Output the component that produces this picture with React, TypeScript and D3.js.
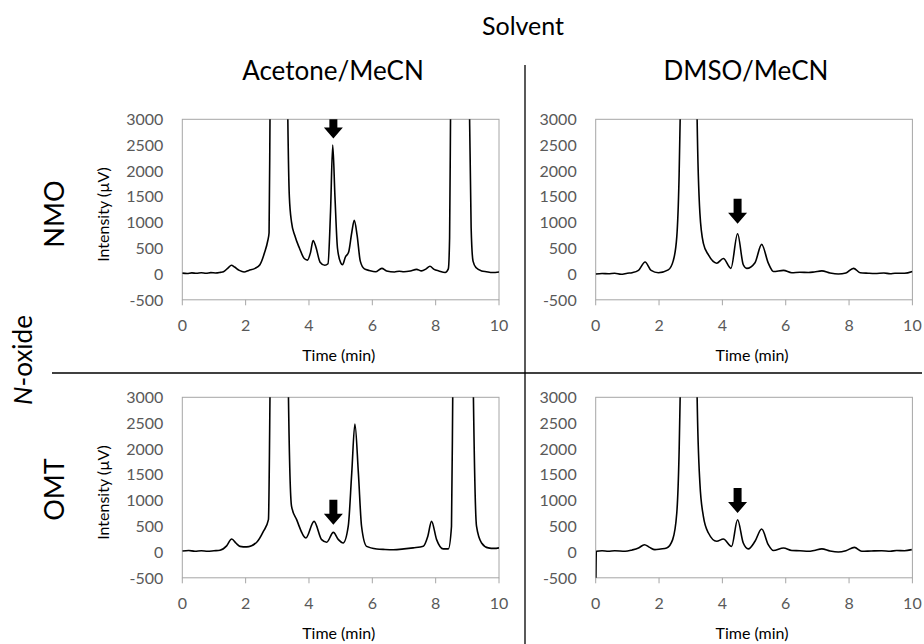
import React from "react";
import { scaleLinear, line, curveMonotoneX } from "d3";

// axis ticks
const timeTicks = [0, 2, 4, 6, 8, 10];
const intensityTicks = [-500, 0, 500, 1000, 1500, 2000, 2500, 3000];

const solventNames = ["Acetone/MeCN", "DMSO/MeCN"];
const oxideNames = ["NMO", "OMT"];

// NMO in Acetone/MeCN
const nmoAcetoneTime = [
  0, 0.15, 0.3, 0.45, 0.6, 0.75, 0.9, 1.05, 1.2, 1.3, 1.45, 1.55, 1.65, 1.8,
  1.95, 2.1, 2.3, 2.45, 2.6, 2.7, 2.74, 2.77, 3.05, 3.33, 3.38, 3.45, 3.55, 3.7,
  3.85, 3.95, 4.05, 4.13, 4.22, 4.35, 4.5, 4.6, 4.68, 4.75, 4.82, 4.9, 5.0,
  5.06, 5.15, 5.25, 5.35, 5.43, 5.52, 5.62, 5.75, 5.9, 6.1, 6.3, 6.45, 6.7,
  6.85, 7.0, 7.2, 7.4, 7.55, 7.7, 7.82, 7.95, 8.1, 8.3, 8.4, 8.44, 8.47, 8.75,
  9.07, 9.12, 9.18, 9.28, 9.45, 9.6, 9.8, 10,
];
const nmoAcetoneSignal = [
  18, 10, 22, 14, 24, 16, 26, 20, 32, 45, 120, 170, 135, 70, 40, 70, 110, 180,
  420, 650, 800, 3100, 40000, 3100, 1500, 1000, 750, 500, 300, 270, 420, 650,
  520, 230, 170, 200, 1200, 2500, 1500, 500, 220, 180, 330, 420, 800, 1040, 750,
  250, 100, 70, 45, 110, 60, 40, 55, 45, 60, 90, 60, 100, 150, 90, 60, 30, 100,
  700, 3100, 40000, 3100, 900, 250, 120, 60, 45, 30, 40,
];

// NMO in DMSO/MeCN
const nmoDmsoTime = [
  0, 0.2, 0.4, 0.6, 0.8, 1.0, 1.15, 1.35, 1.56, 1.75, 1.98, 2.29, 2.45, 2.56,
  2.63, 2.67, 2.93, 3.2, 3.29, 3.4, 3.56, 3.82, 4.03, 4.27, 4.48, 4.66, 4.77,
  5.03, 5.24, 5.45, 5.61, 5.93, 6.19, 6.45, 6.72, 6.9, 7.14, 7.4, 7.66, 7.9,
  8.14, 8.35, 8.6, 8.82, 9.1, 9.3, 9.45, 9.75, 10,
];
const nmoDmsoSignal = [
  0, 10, 5, 15, -5, 15, 25, 70, 232, 70, 25, 80, 260, 720, 1820, 3100, 40000,
  3100, 1180, 595, 370, 210, 300, 110, 780, 180, 110, 220, 575, 210, 50, 70, 25,
  35, 30, 40, 60, 20, 0, 20, 110, 25, 15, 10, 20, 5, 15, 15, 50,
];

// OMT in Acetone/MeCN
const omtAcetoneTime = [
  0, 0.2, 0.4, 0.6, 0.8, 1.0, 1.19, 1.4, 1.56, 1.7, 1.82, 2.03, 2.35, 2.56,
  2.72, 2.77, 3.05, 3.35, 3.45, 3.61, 3.9, 4.16, 4.4, 4.56, 4.77, 4.93, 5.08,
  5.24, 5.35, 5.45, 5.56, 5.66, 5.82, 6.14, 6.4, 6.66, 7.0, 7.29, 7.61, 7.75,
  7.87, 8.03, 8.24, 8.4, 8.5, 8.54, 8.85, 9.19, 9.29, 9.45, 9.66, 9.85, 10,
];
const omtAcetoneSignal = [
  20, 30, 15, 25, 15, 25, 35, 120, 253, 170, 110, 100, 190, 400, 627, 3100,
  40000, 3100, 884, 627, 272, 594, 240, 190, 381, 240, 175, 500, 1530, 2483,
  1530, 500, 110, 60, 50, 45, 60, 80, 110, 300, 594, 240, 60, 60, 500, 3100,
  40000, 3100, 500, 175, 80, 70, 80,
];

// OMT in DMSO/MeCN
const omtDmsoTime = [
  0, 0.02, 0.2, 0.4, 0.6, 0.93, 1.15, 1.35, 1.54, 1.7, 1.87, 2.05, 2.24, 2.43,
  2.56, 2.63, 2.67, 2.93, 3.2, 3.29, 3.4, 3.56, 3.82, 4.03, 4.29, 4.48, 4.66,
  4.82, 5.03, 5.24, 5.45, 5.61, 5.93, 6.19, 6.45, 6.72, 6.9, 7.14, 7.4, 7.66,
  7.9, 8.17, 8.4, 8.7, 9.03, 9.3, 9.5, 9.75, 9.98,
];
const omtDmsoSignal = [
  -900, 15, 25, 15, 25, 14, 40, 78, 142, 90, 46, 60, 78, 240, 756, 1850, 3100,
  40000, 3100, 1336, 692, 369, 208, 253, 110, 627, 175, 60, 208, 446, 142, 30,
  78, 30, 25, 14, 30, 60, 20, 0, 25, 90, 14, 20, 25, 15, 30, 25, 46,
];

// arrow tips marking the N-oxide peak (time, intensity)
const arrowTimes = [4.77, 4.48, 4.77, 4.48];
const arrowSignals = [2630, 977, 530, 756];

const traces = [
  { time: nmoAcetoneTime, signal: nmoAcetoneSignal },
  { time: nmoDmsoTime, signal: nmoDmsoSignal },
  { time: omtAcetoneTime, signal: omtAcetoneSignal },
  { time: omtDmsoTime, signal: omtDmsoSignal },
];

const FONT = "Lato, 'Open Sans', sans-serif";
const GRID = "#a6a6a6";
const TICK_TEXT = "#595959";

const colLeft = [182.3, 595.7];
const rowTop = [119.3, 397.3];
const plotW = 316.7;
const plotH = 180.5;

function Panel({ idx, row, col }: { idx: number; row: number; col: number }) {
  const x0 = colLeft[col];
  const y0 = rowTop[row];
  const x = scaleLinear().domain([0, 10]).range([x0, x0 + plotW]);
  const y = scaleLinear().domain([-500, 3000]).range([y0 + plotH, y0]);
  const tr = traces[idx];
  const pts = tr.time.map((t, i) => [t, tr.signal[i]] as [number, number]);
  const path = line<[number, number]>()
    .x((d) => x(d[0]))
    .y((d) => y(d[1]))
    .curve(curveMonotoneX)(pts);
  const clipId = `clip-${idx}`;
  const ax = x(arrowTimes[idx]);
  const ay = y(arrowSignals[idx]);
  const arrow = [
    [ax, ay],
    [ax - 9.5, ay - 11],
    [ax - 4, ay - 11],
    [ax - 4, ay - 25],
    [ax + 4, ay - 25],
    [ax + 4, ay - 11],
    [ax + 9.5, ay - 11],
  ]
    .map((p) => p.join(","))
    .join(" ");

  return (
    <g>
      <defs>
        <clipPath id={clipId}>
          <rect x={x0} y={y0} width={plotW} height={plotH} />
        </clipPath>
      </defs>
      <rect
        x={x0}
        y={y0}
        width={plotW}
        height={plotH}
        fill="none"
        stroke={GRID}
        strokeWidth={1}
      />
      {timeTicks.map((t) => (
        <g key={t}>
          <line
            x1={x(t)}
            x2={x(t)}
            y1={y0 + plotH}
            y2={y0 + plotH + 5.5}
            stroke={GRID}
          />
          <text
            x={x(t)}
            y={y0 + plotH + 31.5}
            textAnchor="middle"
            fontSize={16}
            fill={TICK_TEXT}
            fontFamily={FONT}
          >
            {t}
          </text>
        </g>
      ))}
      {intensityTicks.map((v) => (
        <text
          key={v}
          x={x0 - 19}
          y={y(v)}
          dy="0.36em"
          textAnchor="end"
          fontSize={16}
          fill={TICK_TEXT}
          fontFamily={FONT}
        >
          {v}
        </text>
      ))}
      <text
        x={x0 + plotW / 2 - 2}
        y={y0 + plotH + 61.5}
        textAnchor="middle"
        fontSize={16}
        fill="#000"
        fontFamily={FONT}
      >
        Time (min)
      </text>
      {col === 0 && (
        <text
          transform={`translate(103,${y0 + plotH / 2 + 5}) rotate(-90)`}
          textAnchor="middle"
          dy="0.35em"
          fontSize={16}
          fill="#000"
          fontFamily={FONT}
        >
          Intensity (µV)
        </text>
      )}
      <g clipPath={`url(#${clipId})`}>
        <path
          d={path || ""}
          fill="none"
          stroke="#000"
          strokeWidth={1.6}
          strokeLinejoin="round"
        />
        <polygon points={arrow} fill="#000" />
      </g>
    </g>
  );
}

export default function App() {
  return (
    <svg
      width={924}
      height={644}
      style={{ position: "absolute", left: 0, top: 0, background: "#fff" }}
    >
      <text
        x={523}
        y={35}
        textAnchor="middle"
        fontSize={25}
        fontFamily={FONT}
        fill="#000"
      >
        Solvent
      </text>
      <text
        x={333}
        y={80}
        textAnchor="middle"
        fontSize={26}
        fontFamily={FONT}
        fill="#000"
      >
        {solventNames[0]}
      </text>
      <text
        x={746}
        y={80}
        textAnchor="middle"
        fontSize={26}
        fontFamily={FONT}
        fill="#000"
      >
        {solventNames[1]}
      </text>
      <line x1={525} x2={525} y1={65} y2={644} stroke="#000" strokeWidth={1.3} />
      <line x1={52} x2={922} y1={373} y2={373} stroke="#000" strokeWidth={1.5} />
      <text
        transform="translate(23,360) rotate(-90)"
        textAnchor="middle"
        dy="0.35em"
        fontSize={26}
        fontFamily={FONT}
        fill="#000"
      >
        <tspan fontStyle="italic">N</tspan>-oxide
      </text>
      {oxideNames.map((n, r) => (
        <text
          key={n}
          transform={`translate(55,${r === 0 ? 214 : 489.5}) rotate(-90)`}
          textAnchor="middle"
          dy="0.35em"
          fontSize={27}
          fontFamily={FONT}
          fill="#000"
        >
          {n}
        </text>
      ))}
      {[0, 1].map((r) =>
        [0, 1].map((c) => (
          <Panel key={`${r}-${c}`} idx={r * 2 + c} row={r} col={c} />
        ))
      )}
    </svg>
  );
}
